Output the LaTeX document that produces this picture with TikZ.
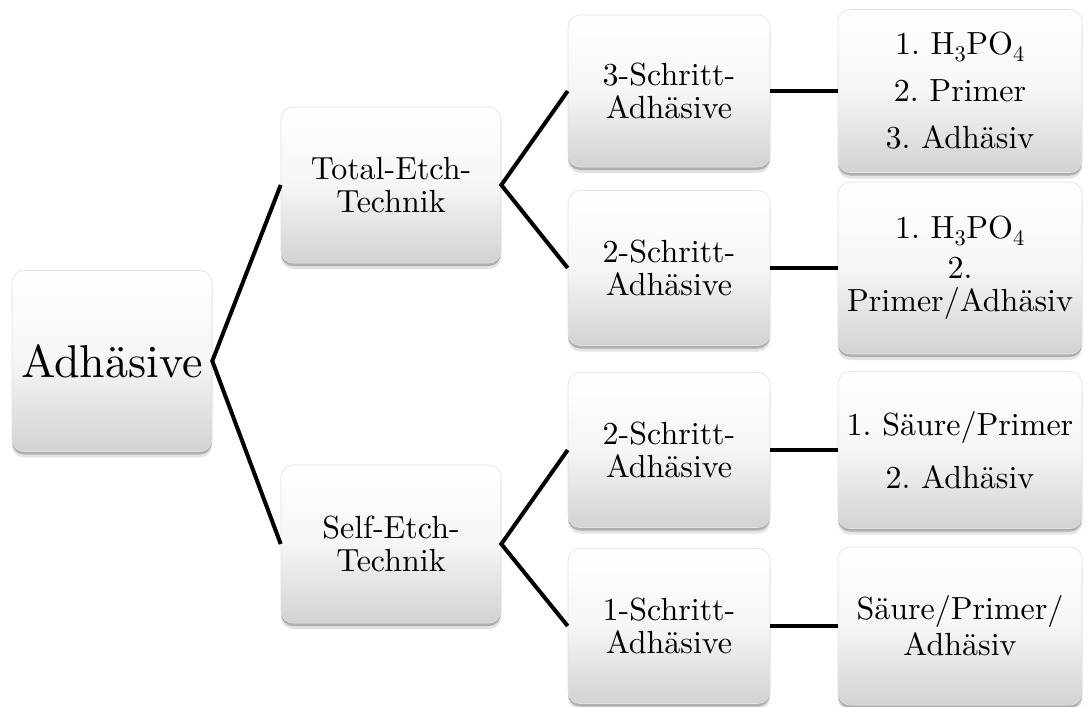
\documentclass[tikz,border=0pt]{standalone}
\usepackage{fontspec}
\setmainfont{lmroman10-regular.otf}
\frenchspacing
\definecolor{boxbot}{RGB}{210,210,210}
\definecolor{boxmid}{RGB}{246,246,246}
\definecolor{boxline}{RGB}{225,225,225}
\definecolor{shadA}{RGB}{228,228,228}
\definecolor{shadB}{RGB}{175,175,175}
\tikzset{
  box/.style={draw=boxline, line width=0.6pt, rounded corners=12pt,
    preaction={fill=shadA, transform canvas={yshift=-6pt}},
    preaction={fill=shadB, transform canvas={yshift=-3pt}},
    top color=white, bottom color=boxbot, middle color=boxmid,
    align=center, inner sep=0pt, text=black,
    font=\fontsize{32}{33}\selectfont\frenchspacing},
  link/.style={line width=4pt, black}
}
\begin{document}
\begin{tikzpicture}[x=1pt,y=-1pt]
\useasboundingbox (0,0) rectangle (1088,707);
\node[box, minimum width=200pt, minimum height=181pt, font=\fontsize{46}{50}\selectfont] (root) at (112,361) {Adhäsive};
\node[box, minimum width=220pt, minimum height=156pt] (te) at (391,185) {Total-Etch-\\Technik};
\node[box, minimum width=220pt, minimum height=158pt] (se) at (391,544) {Self-Etch-\\Technik};
\node[box, minimum width=202pt, minimum height=152pt] (s3) at (669,91) {3-Schritt-\\Adhäsive};
\node[box, minimum width=202pt, minimum height=155pt] (s2a) at (669,268) {2-Schritt-\\Adhäsive};
\node[box, minimum width=202pt, minimum height=155pt] (s2b) at (669,450) {2-Schritt-\\Adhäsive};
\node[box, minimum width=202pt, minimum height=155pt] (s1) at (669,626) {1-Schritt-\\Adhäsive};
\node[box, minimum width=244pt, minimum height=163pt] (r1) at (960,91) {1. H\textsubscript{3}PO\textsubscript{4}\\[14pt]2. Primer\\[14pt]3. Adhäsiv};
\node[box, minimum width=244pt, minimum height=172pt] (r2) at (960,268) {1. H\textsubscript{3}PO\textsubscript{4}\\[7pt]2.\\[0pt]Primer/Adhäsiv};
\node[box, minimum width=244pt, minimum height=157pt] (r3) at (960,450) {1. Säure/Primer\\[20pt]2. Adhäsiv};
\node[box, minimum width=244pt, minimum height=158pt] (r4) at (960,626) {Säure/Primer/\\[3pt]Adhäsiv};
\draw[link] (te.west) -- (root.east) -- (se.west);
\draw[link] (s3.west) -- (te.east) -- (s2a.west);
\draw[link] (s2b.west) -- (se.east) -- (s1.west);
\draw[link] (s3.east) -- (r1.west);
\draw[link] (s2a.east) -- (r2.west);
\draw[link] (s2b.east) -- (r3.west);
\draw[link] (s1.east) -- (r4.west);
\end{tikzpicture}
\end{document}
